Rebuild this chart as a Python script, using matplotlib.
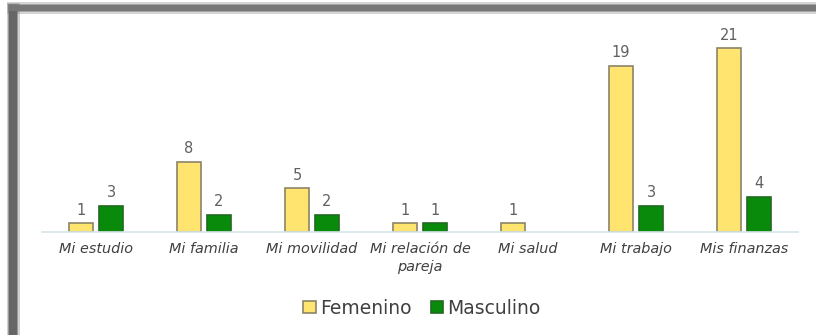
import numpy as np
import matplotlib.pyplot as plt
from matplotlib.patches import Rectangle

categorias = ["Mi estudio", "Mi familia", "Mi movilidad", "Mi relación de\npareja",
              "Mi salud", "Mi trabajo", "Mis finanzas"]
femenino = [1, 8, 5, 1, 1, 19, 21]
masculino = [3, 2, 2, 1, 0, 3, 4]

amarillo = "#FFE570"
verde = "#0A8A0A"
gris_txt = "#606060"

plt.rcParams['font.family'] = ['DejaVu Sans']

fig = plt.figure(figsize=(8.16, 3.35), dpi=100)
ax = fig.add_axes([42 / 816, 103 / 335, 756 / 816, 210 / 335])

x = np.arange(len(categorias))
w = 24 / 108
off = 15 / 108

b1 = ax.bar(x - off, femenino, w, color=amarillo, edgecolor="#8C8466", linewidth=1.2,
            label="Femenino")
b2 = ax.bar(x + off, masculino, w, color=verde, edgecolor="#1F6B1F", linewidth=1.2,
            label="Masculino")

for bars, vals in ((b1, femenino), (b2, masculino)):
    for rect, v in zip(bars, vals):
        if v == 0:
            rect.set_visible(False)
            continue
        ax.annotate(str(v), (rect.get_x() + rect.get_width() / 2, v),
                    xytext=(0, 4), textcoords="offset points",
                    ha="center", va="bottom", fontsize=10.5, color=gris_txt)

ax.set_xlim(-0.5, len(categorias) - 0.5)
ax.set_ylim(0, 24)
ax.set_yticks([])
ax.set_xticks(x)
ax.set_xticklabels(categorias, fontsize=10.4, style="italic", color="#404040",
                   linespacing=1.4)
ax.tick_params(axis="x", length=0, pad=7)
for s in ("top", "right", "left"):
    ax.spines[s].set_visible(False)
ax.spines["bottom"].set_color("#D6E6EA")
ax.spines["bottom"].set_linewidth(1.2)

leg = fig.legend(loc="center", bbox_to_anchor=(422 / 816, 27 / 335), ncol=2,
                 frameon=False, fontsize=13.5, handlelength=0.65, handleheight=0.65,
                 handletextpad=0.25, columnspacing=1.0)
for t in leg.get_texts():
    t.set_color("#404040")

# sombra gris del recuadro (izquierda y arriba)
for pad, a in ((2.5, 0.3), (1.2, 0.5), (0, 1.0)):
    fig.patches.append(Rectangle(((9 - pad) / 816, 0), (8 + 2 * pad) / 816, (330 + pad) / 335,
                                 transform=fig.transFigure, color="#666666", alpha=a,
                                 lw=0, zorder=0))
    fig.patches.append(Rectangle(((9 - pad) / 816, (324 - pad) / 335), (816 - 9 + pad) / 816,
                                 (6 + 2 * pad) / 335,
                                 transform=fig.transFigure, color="#777777", alpha=a,
                                 lw=0, zorder=0))

fig.savefig("out.png", dpi=100)
